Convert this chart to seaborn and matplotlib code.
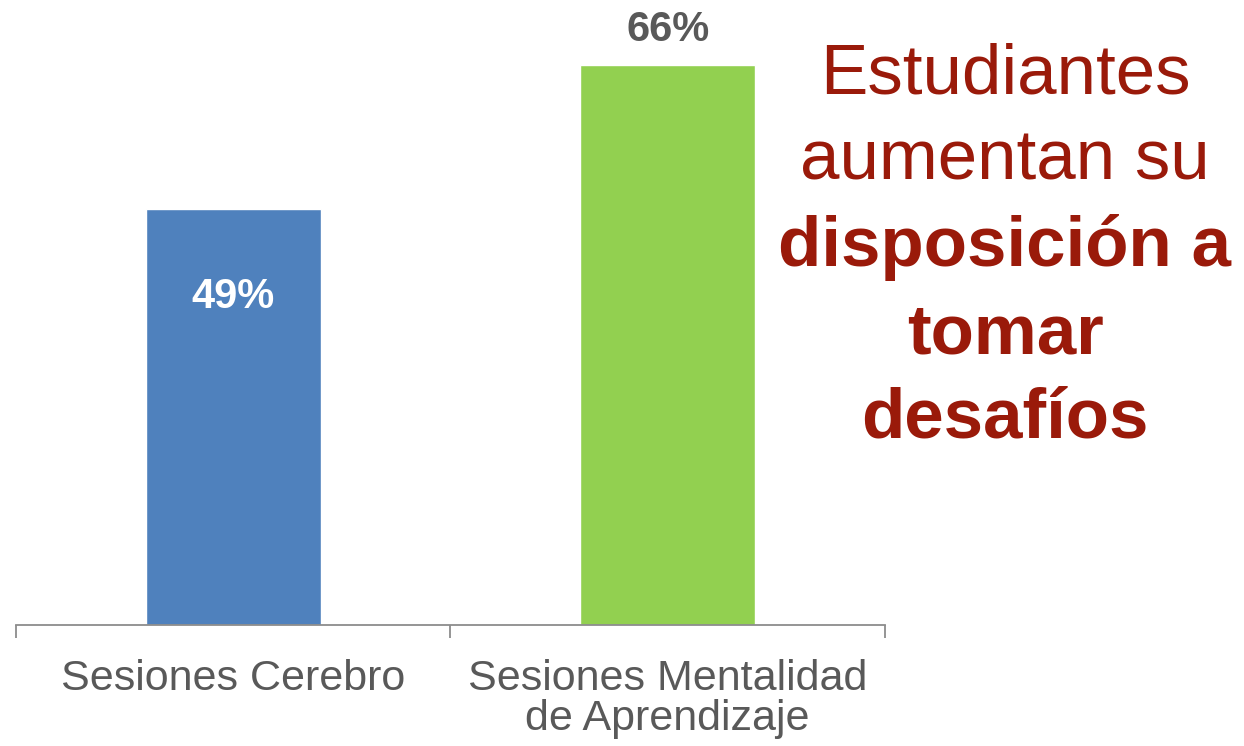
import matplotlib
matplotlib.use("Agg")
import matplotlib.pyplot as plt
import seaborn as sns
import pandas as pd

# Share of students willing to take on challenges, by session type
categories = ["Sesiones Cerebro", "Sesiones Mentalidad\nde Aprendizaje"]
values = [49, 66]
value_labels = ["49%", "66%"]
bar_colors = ["#4F81BD", "#92D050"]

headline_regular = ["Estudiantes", "aumentan su"]
headline_bold = ["disposición a", "tomar", "desafíos"]

sns.set_theme(style="white")
plt.rcParams["font.family"] = ["Liberation Sans", "DejaVu Sans"]

W, H, DPI = 1244, 746, 100
fig = plt.figure(figsize=(W / DPI, H / DPI), dpi=DPI)
ax = fig.add_axes([16 / W, (H - 625) / H, (885 - 16) / W, 625 / H])

df = pd.DataFrame({"cat": categories, "val": values})
sns.barplot(data=df, x="cat", y="val", hue="cat", palette=bar_colors,
            width=0.403, saturation=1, legend=False, ax=ax)

ax.set_xlim(-0.5, 1.5)
ax.set_ylim(0, 73.6)
ax.set_xlabel("")
ax.set_ylabel("")
ax.set_yticks([])

# Category labels sit between boundary ticks
ax.set_xticks([0, 1])
ax.set_xticklabels(categories, fontsize=31, color="#595959", linespacing=1.0)
ax.tick_params(axis="x", which="major", length=0, pad=24.5)
ax.set_xticks([-0.5, 0.5, 1.5], minor=True)
ax.tick_params(axis="x", which="minor", length=9.4, width=1.3,
               color="#8C8C8C", bottom=True)

for side in ["top", "right", "left"]:
    ax.spines[side].set_visible(False)
ax.spines["bottom"].set_color("#8C8C8C")
ax.spines["bottom"].set_linewidth(1.3)

# Value labels: inside the first bar, above the second
offsets = [-99, 24]
label_colors = ["white", "#595959"]
for i, (v, lab) in enumerate(zip(values, value_labels)):
    ax.annotate(lab, xy=(i, v), xytext=(0, offsets[i]), textcoords="offset pixels",
                ha="center", va="baseline", fontsize=30, fontweight="bold",
                color=label_colors[i])

# Headline on the right
red = "#9A1A0A"
cx = 1005 / W
baselines = [93, 179, 266, 353, 438]
lines = [(t, "normal") for t in headline_regular] + [(t, "bold") for t in headline_bold]
for (txt, wt), yb in zip(lines, baselines):
    fig.text(cx, (H - yb) / H, txt, ha="center", va="baseline",
             fontsize=51, fontweight=wt, color=red)

fig.savefig("out.png", dpi=DPI, facecolor="white")
